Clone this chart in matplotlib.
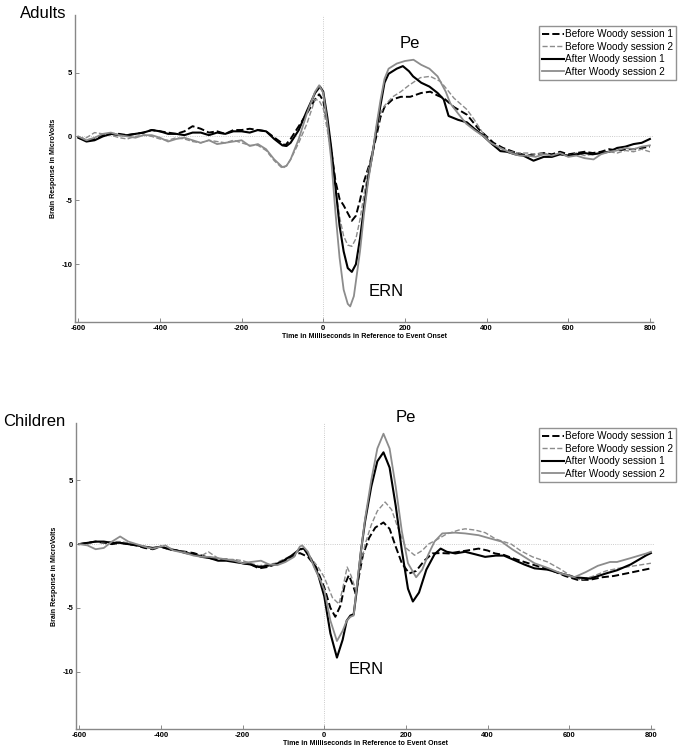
import numpy as np
import matplotlib.pyplot as plt

plt.rcParams['font.family'] = ['Liberation Sans', 'DejaVu Sans']
plt.rcParams['axes.unicode_minus'] = False

# ---- Adults (time in ms, amplitude in microvolts) ----
ad_bw1_t = [-600, -580, -560, -540, -520, -500, -480, -460, -440, -420, -400, -380, -360, -340, -320, -300,
            -280, -260, -240, -220, -200, -180, -160, -140, -113, -93, -80, -60, -40, -20, -10, 0, 10, 20, 30,
            40, 50, 60, 70, 80, 90, 100, 115, 130, 140, 150, 170, 190, 213, 240, 262, 280, 295, 320, 352, 380,
            400, 417, 440, 474, 500, 520, 540, 560, 580, 600, 620, 640, 660, 680, 700, 720, 744, 760, 780, 800]
ad_bw1_v = [-0.1, -0.3, -0.2, 0.1, 0.2, 0.2, 0.1, 0.2, 0.3, 0.5, 0.4, 0.3, 0.2, 0.4, 0.8, 0.6,
            0.3, 0.4, 0.2, 0.5, 0.5, 0.6, 0.5, 0.4, -0.25, -0.7, -0.2, 0.8, 1.8, 2.9, 3.3, 2.8, 1.0, -1.2, -3.5,
            -4.9, -5.4, -6.0, -6.6, -6.2, -5.0, -3.5, -2.0, 0.0, 1.5, 2.3, 2.9, 3.1, 3.1, 3.4, 3.5, 3.2, 3.0, 2.3, 1.7, 0.6,
            0.0, -0.5, -0.9, -1.3, -1.5, -1.4, -1.3, -1.4, -1.2, -1.4, -1.3, -1.2, -1.3, -1.2, -1.0, -1.1, -1.0, -1.0, -0.9, -0.8]

ad_bw2_t = [-600, -580, -560, -540, -520, -500, -480, -460, -440, -420, -400, -380, -360, -340, -320, -300,
            -280, -260, -240, -220, -200, -180, -160, -140, -120, -100, -90, -80, -60, -40, -20, -10, 0, 10, 20,
            30, 40, 50, 60, 70, 80, 90, 100, 110, 120, 130, 140, 150, 170, 190, 210, 238, 262, 287, 300, 320, 352,
            370, 390, 417, 440, 460, 480, 500, 520, 540, 560, 580, 600, 620, 640, 660, 680, 700, 720, 740, 760, 780, 800]
ad_bw2_v = [-0.1, -0.1, 0.3, 0.2, 0.1, -0.1, -0.2, 0.0, 0.1, 0.0, -0.2, -0.3, -0.1, -0.2, -0.4, -0.5,
            -0.3, -0.4, -0.5, -0.3, -0.5, -0.7, -0.7, -1.1, -1.9, -2.5, -2.3, -1.8, -0.5, 1.0, 2.9, 2.8, 2.2, 0.5, -1.5,
            -4.0, -6.3, -7.8, -8.5, -8.6, -8.0, -6.5, -4.5, -2.7, -1.2, 0.3, 1.8, 2.4, 3.1, 3.5, 4.0, 4.6, 4.7, 4.3, 3.8, 3.0, 2.1,
            1.3, 0.3, -0.75, -1.0, -1.2, -1.3, -1.3, -1.4, -1.3, -1.5, -1.4, -1.5, -1.3, -1.5, -1.4, -1.3, -1.2, -1.3, -1.1, -1.2, -1.0, -1.2]

ad_aw1_t = [-600, -580, -560, -540, -520, -500, -480, -460, -440, -420, -400, -380, -360, -340, -320, -300,
            -280, -260, -240, -220, -200, -180, -160, -140, -120, -100, -90, -80, -60, -40, -20, -8, 0, 10, 20,
            30, 40, 50, 60, 70, 80, 90, 100, 110, 120, 130, 140, 150, 160, 180, 195, 210, 220, 240, 260, 280, 295,
            307, 330, 352, 370, 390, 410, 434, 450, 470, 490, 515, 540, 560, 580, 600, 620, 640, 660, 680, 700,
            720, 740, 760, 780, 800]
ad_aw1_v = [-0.1, -0.4, -0.3, 0.0, 0.2, 0.1, 0.1, 0.2, 0.3, 0.5, 0.4, 0.2, 0.2, 0.1, 0.3, 0.3,
            0.1, 0.3, 0.2, 0.4, 0.4, 0.3, 0.5, 0.4, -0.2, -0.7, -0.75, -0.5, 0.5, 2.0, 3.4, 3.9, 3.5, 1.5, -1.0,
            -4.0, -7.0, -9.0, -10.3, -10.6, -10.0, -8.0, -5.5, -3.2, -1.5, 0.5, 2.4, 4.2, 4.9, 5.3, 5.5, 5.1, 4.7, 4.2, 3.9, 3.4, 2.9,
            1.6, 1.3, 1.1, 0.6, 0.1, -0.5, -1.15, -1.2, -1.4, -1.5, -1.9, -1.6, -1.6, -1.4, -1.5, -1.4, -1.3, -1.4, -1.3, -1.2,
            -0.9, -0.8, -0.6, -0.5, -0.2]

ad_aw2_t = [-600, -580, -560, -540, -520, -500, -480, -460, -440, -420, -400, -380, -360, -340, -320, -300,
            -280, -260, -240, -220, -200, -180, -160, -140, -120, -100, -90, -80, -60, -40, -20, -10, 0, 10, 20,
            30, 40, 50, 60, 66, 75, 90, 100, 110, 120, 130, 140, 150, 160, 180, 200, 221, 240, 260, 280, 300, 311,
            330, 350, 370, 393, 410, 434, 460, 480, 500, 520, 540, 560, 580, 600, 620, 640, 662, 680, 700, 719,
            740, 760, 780, 800]
ad_aw2_v = [0.0, -0.3, -0.1, 0.2, 0.3, 0.1, 0.0, -0.1, 0.1, 0.1, -0.1, -0.4, -0.2, -0.1, -0.3, -0.5,
            -0.3, -0.6, -0.5, -0.4, -0.3, -0.75, -0.6, -1.0, -1.8, -2.4, -2.3, -1.8, -0.2, 1.8, 3.5, 4.0, 3.4, 1.0, -2.0,
            -6.0, -9.5, -12.0, -13.1, -13.3, -12.5, -9.0, -6.0, -3.5, -1.5, 0.8, 2.8, 4.5, 5.3, 5.7, 5.9, 6.0, 5.6, 5.3, 4.7, 3.5, 2.6,
            1.8, 1.0, 0.5, 0.0, -0.5, -0.9, -1.3, -1.5, -1.5, -1.6, -1.4, -1.5, -1.3, -1.6, -1.5, -1.7, -1.8, -1.4, -1.2, -1.1,
            -0.9, -1.0, -0.8, -0.7]

# ---- Children ----
ch_bw1_t = [-600, -580, -560, -540, -520, -500, -480, -460, -440, -420, -400, -380, -360, -340, -320, -300,
            -280, -260, -240, -220, -200, -180, -160, -140, -120, -100, -80, -60, -40, -20, 0, 15, 27, 40, 50, 60,
            70, 77, 85, 95, 110, 125, 145, 160, 175, 190, 208, 225, 245, 265, 285, 305, 330, 350, 378, 400, 418,
            440, 470, 500, 530, 560, 590, 620, 650, 680, 709, 740, 770, 800]
ch_bw1_v = [0.0, 0.1, 0.2, 0.1, 0.0, 0.1, 0.0, -0.1, -0.3, -0.4, -0.2, -0.4, -0.5, -0.6, -0.7, -0.9,
            -1.1, -1.2, -1.2, -1.3, -1.5, -1.6, -1.9, -1.8, -1.6, -1.4, -1.0, -0.7, -1.0, -1.8, -3.4, -5.0, -5.7, -4.8, -3.2, -2.45,
            -3.2, -3.9, -2.5, -0.8, 0.5, 1.3, 1.7, 1.2, -0.2, -1.5, -2.3, -2.1, -1.3, -0.73, -0.7, -0.73, -0.6, -0.5, -0.35, -0.5, -0.73,
            -0.85, -1.2, -1.5, -1.8, -2.1, -2.5, -2.8, -2.8, -2.6, -2.5, -2.3, -2.1, -1.9]

ch_bw2_t = [-600, -580, -560, -540, -520, -500, -480, -460, -440, -420, -400, -380, -360, -340, -320, -300,
            -284, -270, -260, -240, -220, -200, -180, -160, -140, -120, -100, -80, -60, -45, -30, -15, 0, 20, 36,
            45, 56, 66, 77, 87, 100, 115, 130, 149, 165, 180, 200, 221, 240, 255, 273, 300, 329, 345, 370, 394,
            420, 458, 480, 510, 547, 575, 600, 628, 660, 690, 720, 760, 800]
ch_bw2_v = [0.0, 0.0, 0.2, 0.1, 0.2, 0.2, 0.1, 0.0, -0.2, -0.3, -0.2, -0.3, -0.5, -0.6, -0.8, -0.9,
            -0.6, -0.9, -1.1, -1.2, -1.2, -1.3, -1.5, -1.7, -1.6, -1.5, -1.2, -0.9, -0.4, -0.5, -1.2, -1.8, -2.6, -4.2, -4.7,
            -3.5, -1.8, -2.5, -3.6, -2.0, 0.0, 1.5, 2.6, 3.3, 2.7, 1.3, -0.3, -0.87, -0.5, 0.0, 0.3, 0.8, 1.1, 1.2, 1.1, 0.9,
            0.4, 0.0, -0.5, -1.0, -1.4, -1.9, -2.4, -2.8, -2.5, -2.1, -1.9, -1.7, -1.5]

ch_aw1_t = [-600, -580, -560, -540, -520, -500, -480, -460, -440, -420, -400, -380, -360, -340, -320, -300,
            -280, -260, -240, -220, -200, -180, -160, -140, -120, -100, -80, -60, -50, -30, -15, 0, 15, 31, 45,
            55, 64, 72, 80, 90, 100, 115, 130, 145, 160, 175, 190, 205, 217, 232, 250, 270, 285, 300, 321, 345,
            370, 394, 420, 440, 466, 490, 515, 547, 580, 612, 652, 690, 717, 750, 789, 800]
ch_aw1_v = [0.0, 0.1, 0.2, 0.2, 0.1, 0.1, 0.0, -0.1, -0.2, -0.3, -0.2, -0.4, -0.5, -0.7, -0.8, -1.0,
            -1.1, -1.3, -1.3, -1.4, -1.5, -1.6, -1.8, -1.7, -1.6, -1.3, -0.9, -0.4, -0.35, -1.3, -2.4, -4.1, -7.0, -8.9, -7.5,
            -6.0, -5.6, -5.5, -3.5, -0.5, 1.8, 4.5, 6.5, 7.2, 6.0, 3.0, -0.5, -3.5, -4.5, -3.8, -2.0, -0.8, -0.35, -0.6, -0.73, -0.6,
            -0.8, -1.0, -0.9, -0.9, -1.26, -1.6, -1.9, -2.0, -2.3, -2.6, -2.7, -2.3, -2.05, -1.6, -0.87, -0.7]

ch_aw2_t = [-600, -580, -560, -540, -520, -500, -480, -460, -440, -421, -400, -389, -370, -340, -320, -300,
            -280, -260, -240, -220, -200, -180, -155, -135, -115, -95, -74, -60, -54, -40, -25, -10, 0, 15, 31,
            45, 55, 64, 72, 80, 90, 100, 115, 130, 145, 160, 175, 190, 205, 225, 240, 255, 270, 289, 320, 345,
            378, 400, 434, 460, 490, 515, 550, 580, 612, 640, 670, 700, 717, 750, 789, 800]
ch_aw2_v = [0.0, -0.1, -0.4, -0.3, 0.2, 0.6, 0.2, 0.0, -0.2, -0.35, -0.2, -0.1, -0.5, -0.7, -0.9, -1.0,
            -1.0, -1.1, -1.2, -1.3, -1.5, -1.4, -1.3, -1.6, -1.65, -1.4, -1.0, -0.2, -0.1, -0.6, -1.8, -2.8, -3.6, -6.0, -7.6,
            -6.8, -6.0, -5.7, -5.6, -3.2, -0.5, 2.0, 5.0, 7.5, 8.66, 7.5, 4.5, 1.0, -1.5, -2.6, -2.0, -0.8, 0.2, 0.84, 0.9, 0.84,
            0.7, 0.5, 0.2, -0.4, -1.0, -1.5, -1.9, -2.3, -2.6, -2.2, -1.7, -1.4, -1.4, -1.1, -0.73, -0.6]

labels = ['Before Woody session 1', 'Before Woody session 2',
          'After Woody session 1', 'After Woody session 2']
gray = '#8c8c8c'
styles = [dict(color='black', ls='--', lw=1.4),
          dict(color=gray, ls='--', lw=1.0),
          dict(color='black', ls='-', lw=1.5),
          dict(color=gray, ls='-', lw=1.3)]

panels = [
    ('Adults', [(ad_bw1_t, ad_bw1_v), (ad_bw2_t, ad_bw2_v), (ad_aw1_t, ad_aw1_v), (ad_aw2_t, ad_aw2_v)],
     [0.1095, 0.571, 0.844, 0.409], (211, 7.3), (110, -12.15), 0.965, 0.029),
    ('Children', [(ch_bw1_t, ch_bw1_v), (ch_bw2_t, ch_bw2_v), (ch_aw1_t, ch_aw1_v), (ch_aw2_t, ch_aw2_v)],
     [0.111, 0.028, 0.844, 0.408], (200, 9.9), (60, -9.85), 0.429, 0.004),
]

fig = plt.figure(figsize=(6.85, 7.5), dpi=100)

for name, series, rect, pe_xy, ern_xy, leg_top, name_x in panels:
    ax = fig.add_axes(rect)
    ax.axhline(0, color='#bbbbbb', lw=0.6, ls=':', zorder=0)
    ax.axvline(0, color='#bbbbbb', lw=0.6, ls=':', zorder=0)
    lines = []
    for (t, v), st, lab in zip(series, styles, labels):
        ln, = ax.plot(t, v, label=lab, **st)
        lines.append(ln)
    ax.set_xlim(-608, 808)
    ax.set_ylim(-14.5, 9.5)
    ax.set_xticks([-600, -400, -200, 0, 200, 400, 600, 800])
    ax.set_yticks([-10, -5, 0, 5])
    ax.tick_params(direction='in', length=3, width=0.6, labelsize=5.5, pad=2, color='#777777')
    for lb in ax.get_xticklabels() + ax.get_yticklabels():
        lb.set_fontweight('bold')
    for s in ['top', 'right']:
        ax.spines[s].set_visible(False)
    for s in ['left', 'bottom']:
        ax.spines[s].set_color('#888888')
        ax.spines[s].set_linewidth(1.0)
    ax.set_xlabel('Time in Milliseconds in Reference to Event Onset', fontsize=5, fontweight='bold', labelpad=1)
    ax.set_ylabel('Brain Response in MicroVolts', fontsize=5, fontweight='bold', labelpad=3)
    ax.text(pe_xy[0], pe_xy[1], 'Pe', fontsize=12, ha='center', va='center')
    ax.text(ern_xy[0], ern_xy[1], 'ERN', fontsize=12, ha='left', va='center')
    fig.text(name_x, rect[1] + rect[3] + 0.002, name, fontsize=12, ha='left', va='center')
    fig.legend(handles=lines, loc='upper right', bbox_to_anchor=(0.987, leg_top), fontsize=7.2,
               frameon=True, fancybox=False, edgecolor='#777777', handlelength=2.2, handletextpad=0.1,
               labelspacing=0.25, borderpad=0.3, borderaxespad=0)

fig.savefig('out.png', dpi=100)
